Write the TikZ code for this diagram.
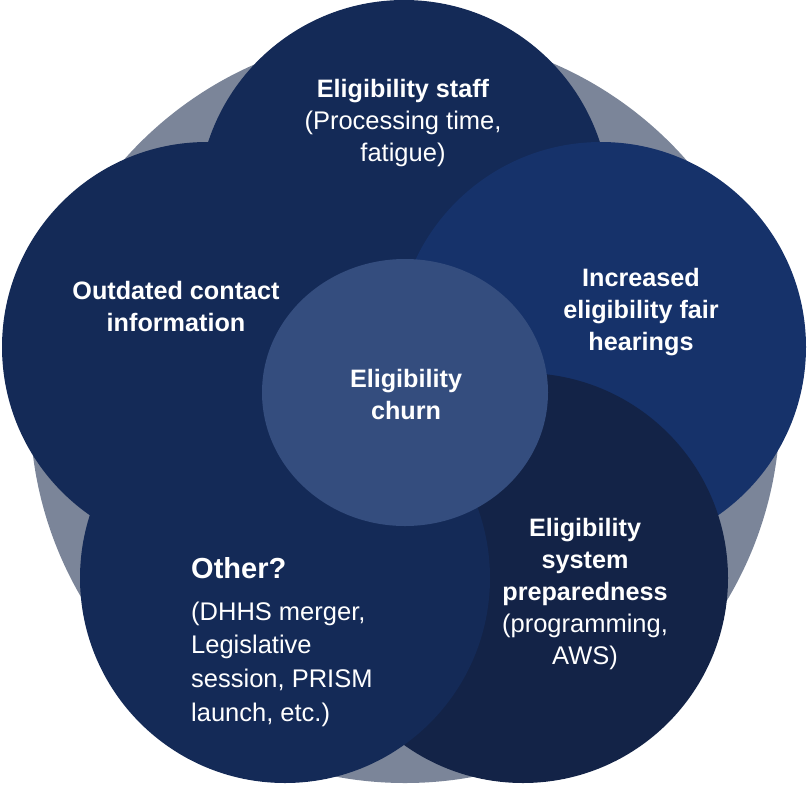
\documentclass[tikz,border=0pt]{standalone}
\usepackage{fontspec}
\setmainfont{Liberation Sans}
\definecolor{graybg}{HTML}{7B8599}
\definecolor{navy}{HTML}{142A57}
\definecolor{rightc}{HTML}{16326A}
\definecolor{darkc}{HTML}{132347}
\definecolor{centerc}{HTML}{344D7E}
\newcommand{\bt}[1]{{\fontsize{25.2}{32}\selectfont\bfseries #1}}
\tikzset{
  lbl/.style={text=white, align=center, inner sep=0pt, font=\fontsize{25.5}{32}\selectfont},
}
\begin{document}
\begin{tikzpicture}[x=1pt,y=-1pt]
\useasboundingbox (0,0) rectangle (808,785);
\fill[graybg] (405,408) circle (375pt);
\fill[navy] (404,206) circle (206pt);
\fill[navy] (207,347) circle (205pt);
\fill[rightc] (601,347) circle (205pt);
\fill[darkc] (523,578) circle (205pt);
\fill[navy] (285,578) circle (205pt);
\fill[centerc] (405,392.5) ellipse (143pt and 133.5pt);

\node[lbl] (staff) at (403,123) {\bt{Eligibility staff}\\(Processing time,\\fatigue)};
\node[lbl] (contact) at (176,306) {\bt{Outdated contact}\\\bt{information}};
\node[lbl] (fair) at (641,312) {\bt{Increased}\\\bt{eligibility fair}\\\bt{hearings}};
\node[lbl] (churn) at (406,394) {\bt{Eligibility}\\\bt{churn}};
\node[lbl] (prep) at (585,594) {\bt{Eligibility}\\\bt{system}\\\bt{preparedness}\\(programming,\\AWS)};
\node[lbl, anchor=west, font=\fontsize{29}{34}\selectfont\bfseries] (other) at (191,568) {Other?};
\node[lbl, align=left, anchor=west, font=\fontsize{25.5}{33.7}\selectfont] (otherdesc) at (191,664) {(DHHS merger,\\Legislative\\session, PRISM\\launch, etc.)};
\end{tikzpicture}
\end{document}
